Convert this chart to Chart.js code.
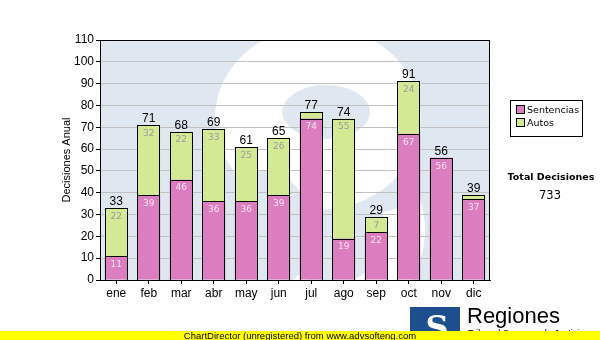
<!DOCTYPE html>
<html>
<head>
<meta charset="utf-8">
<script src="https://cdn.jsdelivr.net/npm/chart.js@4.4.1/dist/chart.umd.min.js"></script>
<style>
  body { margin: 0; background: #fff; }
  canvas { display: block; }
</style>
</head>
<body>
<canvas id="chart" width="600" height="340"></canvas>
<script>
// monthly decisions
const months = ['ene', 'feb', 'mar', 'abr', 'may', 'jun', 'jul', 'ago', 'sep', 'oct', 'nov', 'dic'];
const sentencias = [11, 39, 46, 36, 36, 39, 74, 19, 22, 67, 56, 37];
const autos = [22, 32, 22, 33, 25, 26, 3, 55, 7, 24, 0, 2];
const seriesNames = ['Sentencias', 'Autos'];
const yTicks = [0, 10, 20, 30, 40, 50, 60, 70, 80, 90, 100, 110];

const totals = months.map((m, i) => sentencias[i] + autos[i]);
const grandTotal = totals.reduce((a, b) => a + b, 0);

const PINK = '#dc7dbf';
const GREEN = '#d3e994';
const SANS = '"Liberation Sans", Arial, sans-serif';
const VERD = '"DejaVu Sans", Verdana, sans-serif';

// light blue watermark behind the plot
const watermark = {
    id: 'watermark',
    beforeDraw(chart) {
        const { ctx, chartArea: a } = chart;
        ctx.save();
        ctx.beginPath();
        ctx.rect(a.left, a.top, a.right - a.left, a.bottom - a.top);
        ctx.clip();
        ctx.fillStyle = '#dfe8f1';
        ctx.fillRect(a.left, a.top, a.right - a.left, a.bottom - a.top);
        ctx.fillStyle = '#ffffff';
        ctx.beginPath();
        ctx.ellipse(318, 118, 103, 92, 0, 0, Math.PI * 2);
        ctx.fill();
        ctx.strokeStyle = '#ffffff';
        ctx.lineWidth = 40;
        ctx.beginPath();
        ctx.arc(330, 230, 75, -0.1 * Math.PI, 0.7 * Math.PI, false);
        ctx.stroke();
        ctx.fillStyle = '#dfe8f1';
        ctx.beginPath();
        ctx.ellipse(326, 112, 44, 27, 0, 0, Math.PI * 2);
        ctx.fill();
        ctx.beginPath();
        ctx.ellipse(262, 232, 50, 62, 0, 0, Math.PI * 2);
        ctx.fill();
        ctx.restore();
    }
};

// crisp outlines, segment values, totals, border, legend, footer
const decorations = {
    id: 'decorations',
    afterDatasetsDraw(chart) {
        const { ctx } = chart;
        ctx.save();
        ctx.strokeStyle = '#000';
        ctx.lineWidth = 1;
        chart.data.datasets.forEach((ds, d) => {
            chart.getDatasetMeta(d).data.forEach((el, i) => {
                if (ds.data[i] == null) return;
                const l = Math.round(el.x - el.width / 2) + 0.5;
                const r = Math.round(el.x + el.width / 2) - 0.5;
                const t = Math.round(el.y) + 0.5;
                const b = Math.round(el.base) + 0.5;
                ctx.strokeRect(l, t, r - l, b - t);
            });
        });
        ctx.textAlign = 'center';
        const m0 = chart.getDatasetMeta(0);
        const m1 = chart.getDatasetMeta(1);
        months.forEach((m, i) => {
            const b0 = m0.data[i];
            ctx.font = '9px ' + VERD;
            ctx.textBaseline = 'top';
            if (sentencias[i] >= 5) {
                ctx.fillStyle = '#f6e4f0';
                ctx.fillText(String(sentencias[i]), b0.x, b0.y + 4);
            }
            if (autos[i] >= 5) {
                const b1 = m1.data[i];
                ctx.fillStyle = '#9c9c9c';
                ctx.fillText(String(autos[i]), b1.x, b1.y + 4);
            }
            const yTop = chart.scales.y.getPixelForValue(totals[i]);
            ctx.font = '12px ' + SANS;
            ctx.fillStyle = '#000';
            ctx.textBaseline = 'alphabetic';
            ctx.fillText(String(totals[i]), b0.x, yTop - 3);
        });
        ctx.restore();
    },
    afterDraw(chart) {
        const { ctx, chartArea: a } = chart;
        ctx.save();
        ctx.strokeStyle = '#000';
        ctx.lineWidth = 1;
        ctx.strokeRect(a.left + 0.5, a.top + 0.5, a.right - a.left - 1, a.bottom - a.top);

        // legend box
        ctx.strokeRect(510.5, 100.5, 72, 36);
        const cols = [PINK, GREEN];
        ctx.font = '9.5px ' + VERD;
        ctx.textAlign = 'left';
        ctx.textBaseline = 'middle';
        seriesNames.forEach((n, k) => {
            const y = 110 + k * 13;
            ctx.fillStyle = cols[k];
            ctx.fillRect(516.5, y - 4.5, 8, 8);
            ctx.strokeRect(516.5, y - 4.5, 8, 8);
            ctx.fillStyle = '#000';
            ctx.fillText(n, 527, y + 1);
        });

        // total
        ctx.textAlign = 'center';
        ctx.font = 'bold 9.5px ' + VERD;
        ctx.fillText('Total Decisiones', 551, 178);
        ctx.font = '11.5px ' + VERD;
        ctx.fillText(String(grandTotal), 550, 196);

        // logo
        ctx.fillStyle = '#1d4f8e';
        ctx.fillRect(410, 307, 50, 33);
        ctx.fillStyle = '#fff';
        ctx.font = 'bold 32px "DejaVu Serif", serif';
        ctx.textBaseline = 'alphabetic';
        ctx.fillText('S', 437, 338);
        ctx.fillStyle = '#000';
        ctx.textAlign = 'left';
        ctx.font = '22px ' + SANS;
        ctx.fillText('Regiones', 467, 323);
        ctx.font = '9px ' + SANS;
        ctx.fillText('Tribunal Supremo de Justicia', 468, 336);

        // footer strip
        ctx.fillStyle = '#ffff00';
        ctx.fillRect(0, 331, 600, 9);
        ctx.fillStyle = '#000';
        ctx.textAlign = 'center';
        ctx.font = '9.5px ' + SANS;
        ctx.fillText('ChartDirector (unregistered) from www.advsofteng.com', 300, 339);
        ctx.restore();
    }
};

new Chart(document.getElementById('chart'), {
    type: 'bar',
    data: {
        labels: months,
        datasets: [
            {
                label: seriesNames[0],
                data: sentencias,
                backgroundColor: PINK,
                borderWidth: 0
            },
            {
                label: seriesNames[1],
                data: autos.map(v => v || null),
                backgroundColor: GREEN,
                borderWidth: 0
            }
        ]
    },
    options: {
        responsive: false,
        animation: false,
        events: [],
        barPercentage: 0.71,
        categoryPercentage: 1,
        layout: { padding: { left: 56, right: 110, top: 40, bottom: 40 } },
        plugins: {
            legend: { display: false },
            tooltip: { enabled: false }
        },
        scales: {
            x: {
                stacked: true,
                afterFit(s) { s.height = 20; },
                grid: { drawOnChartArea: false, offset: false, tickLength: 4, tickColor: '#000' },
                border: { color: '#000' },
                ticks: { color: '#000', padding: 2, font: { family: SANS, size: 12 } }
            },
            y: {
                stacked: true,
                min: 0,
                max: 110,
                afterFit(s) { s.width = 44; },
                afterBuildTicks(s) { s.ticks = yTicks.map(v => ({ value: v })); },
                grid: { color: '#c0c0c0', tickLength: 4, tickColor: '#000' },
                border: { color: '#000' },
                ticks: { color: '#000', padding: 2, font: { family: SANS, size: 12 } },
                title: { display: true, text: 'Decisiones Anual', color: '#000', font: { family: SANS, size: 11 } }
            }
        }
    },
    plugins: [watermark, decorations]
});
</script>
</body>
</html>
